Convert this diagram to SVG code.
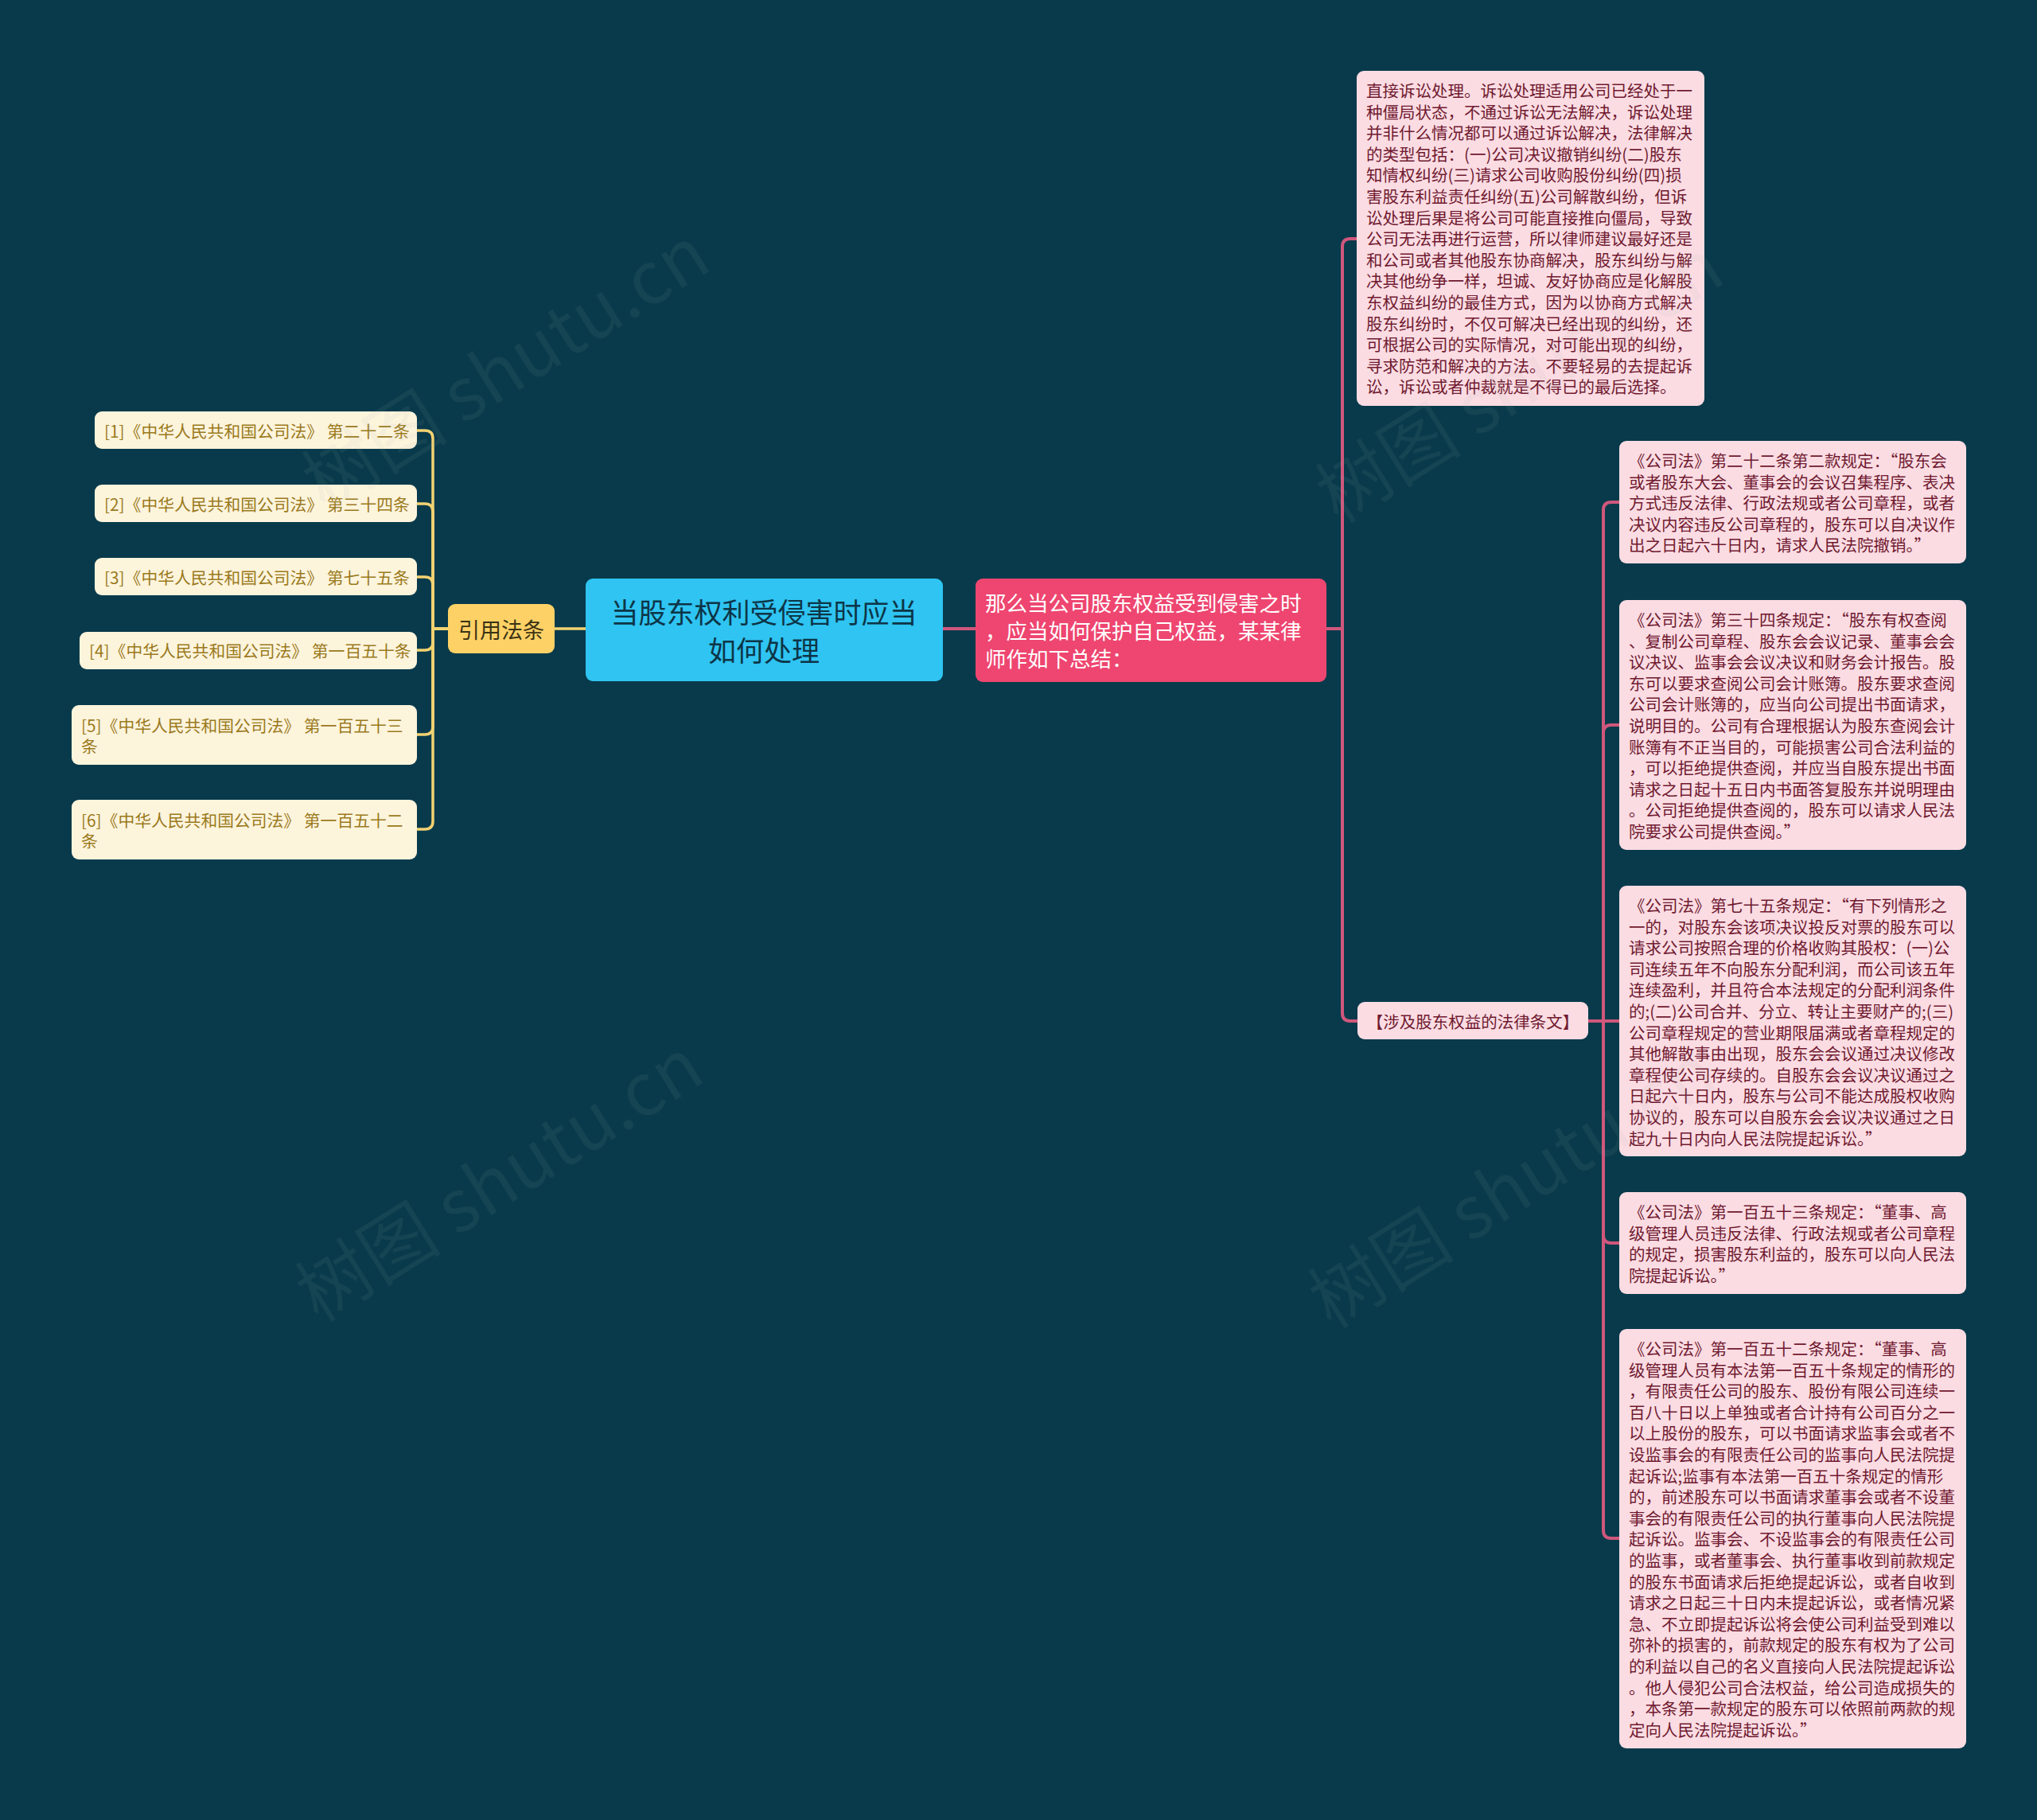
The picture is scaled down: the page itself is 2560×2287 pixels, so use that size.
<svg xmlns="http://www.w3.org/2000/svg" width="2560" height="2287" viewBox="0 0 2560 2287">
<style>
.cjk{font-family:"Noto Sans CJK SC","Noto Sans CJK TC",sans-serif;}
.ref rect{fill:#fdf4dc;}
.ref text{font-size:20.8px;fill:#9a7a1c;dominant-baseline:central;}
.law rect{fill:#fbdce3;}
.law text{font-size:20.5px;fill:#701a30;dominant-baseline:central;}
.cp{fill:none;stroke:#d0577c;stroke-width:4;}
.cy{fill:none;stroke:#f2d272;stroke-width:3.5;}
.wm{font-size:92px;fill:#a0a8ab;opacity:0.09;}
</style>
<rect x="0" y="0" width="2560" height="2287" fill="#083a4b"/>

<g id="connectors">
<path class="cy" d="M736 790 H697"/>
<path class="cy" d="M563 790 H544 V551 Q544 541 534 541 H524"/>
<path class="cy" d="M563 790 H544 V643 Q544 633 534 633 H524"/>
<path class="cy" d="M563 790 H544 V735 Q544 725 534 725 H524"/>
<path class="cy" d="M563 790 H544 V807 Q544 817 534 817 H524"/>
<path class="cy" d="M563 790 H544 V913 Q544 923 534 923 H524"/>
<path class="cy" d="M563 790 H544 V1032 Q544 1042 534 1042 H524"/>
<path class="cp" d="M1185 790 H1226"/>
<path class="cp" d="M1667 790 H1687 V310 Q1687 300 1697 300 H1705"/>
<path class="cp" d="M1667 790 H1687 V1273 Q1687 1283 1697 1283 H1706"/>
<path class="cp" d="M1996 1283 H2015 V641 Q2015 631 2025 631 H2035"/>
<path class="cp" d="M1996 1283 H2015 V921 Q2015 911 2025 911 H2035"/>
<path class="cp" d="M1996 1283 H2035"/>
<path class="cp" d="M1996 1283 H2015 V1552 Q2015 1562 2025 1562 H2035"/>
<path class="cp" d="M1996 1283 H2015 V1923 Q2015 1933 2025 1933 H2035"/>
</g>

<g id="root" class="cjk">
<rect x="736" y="727" width="449" height="129" rx="9" fill="#2fc4f2"/>
<text x="960" y="767" font-size="35" fill="#0d3547" text-anchor="middle" dominant-baseline="central">当股东权利受侵害时应当</text>
<text x="960" y="815" font-size="35" fill="#0d3547" text-anchor="middle" dominant-baseline="central">如何处理</text>
</g>

<g id="cite" class="cjk">
<rect x="563" y="759" width="134" height="62" rx="9" fill="#fed166"/>
<text x="630" y="790" font-size="27" fill="#3a3214" text-anchor="middle" dominant-baseline="central">引用法条</text>
</g>

<g id="ref1" class="ref cjk"><rect x="119" y="517" width="405" height="47" rx="9"/><text x="131" y="541">[1]《中华人民共和国公司法》 第二十二条</text></g>
<g id="ref2" class="ref cjk"><rect x="119" y="609" width="405" height="47" rx="9"/><text x="131" y="633">[2]《中华人民共和国公司法》 第三十四条</text></g>
<g id="ref3" class="ref cjk"><rect x="119" y="701" width="405" height="47" rx="9"/><text x="131" y="725">[3]《中华人民共和国公司法》 第七十五条</text></g>
<g id="ref4" class="ref cjk"><rect x="100" y="794" width="424" height="47" rx="9"/><text x="112" y="817">[4]《中华人民共和国公司法》 第一百五十条</text></g>
<g id="ref5" class="ref cjk"><rect x="90" y="886" width="434" height="75" rx="9"/><text x="102" y="911">[5]《中华人民共和国公司法》 第一百五十三<tspan x="102" dy="25.5">条</tspan></text></g>
<g id="ref6" class="ref cjk"><rect x="90" y="1005" width="434" height="75" rx="9"/><text x="102" y="1030">[6]《中华人民共和国公司法》 第一百五十二<tspan x="102" dy="25.5">条</tspan></text></g>

<g id="summary" class="cjk">
<rect x="1226" y="727" width="441" height="130" rx="9" fill="#ee4670"/>
<text x="1238" y="756" font-size="26.5" fill="#ffffff" dominant-baseline="central">那么当公司股东权益受到侵害之时<tspan x="1238" dy="35">，应当如何保护自己权益，某某律</tspan><tspan x="1238" dy="35">师作如下总结：</tspan></text>
</g>

<g id="advice" class="law cjk">
<rect x="1705" y="89" width="437" height="421" rx="9"/>
<text x="1717" y="113">直接诉讼处理。诉讼处理适用公司已经处于一<tspan x="1717" dy="26.6">种僵局状态，不通过诉讼无法解决，诉讼处理</tspan><tspan x="1717" dy="26.6">并非什么情况都可以通过诉讼解决，法律解决</tspan><tspan x="1717" dy="26.6">的类型包括：(一)公司决议撤销纠纷(二)股东</tspan><tspan x="1717" dy="26.6">知情权纠纷(三)请求公司收购股份纠纷(四)损</tspan><tspan x="1717" dy="26.6">害股东利益责任纠纷(五)公司解散纠纷，但诉</tspan><tspan x="1717" dy="26.6">讼处理后果是将公司可能直接推向僵局，导致</tspan><tspan x="1717" dy="26.6">公司无法再进行运营，所以律师建议最好还是</tspan><tspan x="1717" dy="26.6">和公司或者其他股东协商解决，股东纠纷与解</tspan><tspan x="1717" dy="26.6">决其他纷争一样，坦诚、友好协商应是化解股</tspan><tspan x="1717" dy="26.6">东权益纠纷的最佳方式，因为以协商方式解决</tspan><tspan x="1717" dy="26.6">股东纠纷时，不仅可解决已经出现的纠纷，还</tspan><tspan x="1717" dy="26.6">可根据公司的实际情况，对可能出现的纠纷，</tspan><tspan x="1717" dy="26.6">寻求防范和解决的方法。不要轻易的去提起诉</tspan><tspan x="1717" dy="26.6">讼，诉讼或者仲裁就是不得已的最后选择。</tspan></text>
</g>

<g id="laws" class="law cjk">
<rect x="1706" y="1259" width="290" height="47" rx="9"/>
<text x="1851" y="1283" text-anchor="middle">【涉及股东权益的法律条文】</text>
</g>

<g id="law22" class="law cjk">
<rect x="2035" y="554" width="436" height="154" rx="9"/>
<text x="2047" y="578">《公司法》第二十二条第二款规定：“股东会<tspan x="2047" dy="26.6">或者股东大会、董事会的会议召集程序、表决</tspan><tspan x="2047" dy="26.6">方式违反法律、行政法规或者公司章程，或者</tspan><tspan x="2047" dy="26.6">决议内容违反公司章程的，股东可以自决议作</tspan><tspan x="2047" dy="26.6">出之日起六十日内，请求人民法院撤销。”</tspan></text>
</g>

<g id="law34" class="law cjk">
<rect x="2035" y="754" width="436" height="314" rx="9"/>
<text x="2047" y="778">《公司法》第三十四条规定：“股东有权查阅<tspan x="2047" dy="26.6">、复制公司章程、股东会会议记录、董事会会</tspan><tspan x="2047" dy="26.6">议决议、监事会会议决议和财务会计报告。股</tspan><tspan x="2047" dy="26.6">东可以要求查阅公司会计账簿。股东要求查阅</tspan><tspan x="2047" dy="26.6">公司会计账簿的，应当向公司提出书面请求，</tspan><tspan x="2047" dy="26.6">说明目的。公司有合理根据认为股东查阅会计</tspan><tspan x="2047" dy="26.6">账簿有不正当目的，可能损害公司合法利益的</tspan><tspan x="2047" dy="26.6">，可以拒绝提供查阅，并应当自股东提出书面</tspan><tspan x="2047" dy="26.6">请求之日起十五日内书面答复股东并说明理由</tspan><tspan x="2047" dy="26.6">。公司拒绝提供查阅的，股东可以请求人民法</tspan><tspan x="2047" dy="26.6">院要求公司提供查阅。”</tspan></text>
</g>

<g id="law75" class="law cjk">
<rect x="2035" y="1113" width="436" height="340" rx="9"/>
<text x="2047" y="1137">《公司法》第七十五条规定：“有下列情形之<tspan x="2047" dy="26.6">一的，对股东会该项决议投反对票的股东可以</tspan><tspan x="2047" dy="26.6">请求公司按照合理的价格收购其股权：(一)公</tspan><tspan x="2047" dy="26.6">司连续五年不向股东分配利润，而公司该五年</tspan><tspan x="2047" dy="26.6">连续盈利，并且符合本法规定的分配利润条件</tspan><tspan x="2047" dy="26.6">的;(二)公司合并、分立、转让主要财产的;(三)</tspan><tspan x="2047" dy="26.6">公司章程规定的营业期限届满或者章程规定的</tspan><tspan x="2047" dy="26.6">其他解散事由出现，股东会会议通过决议修改</tspan><tspan x="2047" dy="26.6">章程使公司存续的。自股东会会议决议通过之</tspan><tspan x="2047" dy="26.6">日起六十日内，股东与公司不能达成股权收购</tspan><tspan x="2047" dy="26.6">协议的，股东可以自股东会会议决议通过之日</tspan><tspan x="2047" dy="26.6">起九十日内向人民法院提起诉讼。”</tspan></text>
</g>

<g id="law153" class="law cjk">
<rect x="2035" y="1498" width="436" height="128" rx="9"/>
<text x="2047" y="1522">《公司法》第一百五十三条规定：“董事、高<tspan x="2047" dy="26.6">级管理人员违反法律、行政法规或者公司章程</tspan><tspan x="2047" dy="26.6">的规定，损害股东利益的，股东可以向人民法</tspan><tspan x="2047" dy="26.6">院提起诉讼。”</tspan></text>
</g>

<g id="law152" class="law cjk">
<rect x="2035" y="1670" width="436" height="527" rx="9"/>
<text x="2047" y="1694">《公司法》第一百五十二条规定：“董事、高<tspan x="2047" dy="26.6">级管理人员有本法第一百五十条规定的情形的</tspan><tspan x="2047" dy="26.6">，有限责任公司的股东、股份有限公司连续一</tspan><tspan x="2047" dy="26.6">百八十日以上单独或者合计持有公司百分之一</tspan><tspan x="2047" dy="26.6">以上股份的股东，可以书面请求监事会或者不</tspan><tspan x="2047" dy="26.6">设监事会的有限责任公司的监事向人民法院提</tspan><tspan x="2047" dy="26.6">起诉讼;监事有本法第一百五十条规定的情形</tspan><tspan x="2047" dy="26.6">的，前述股东可以书面请求董事会或者不设董</tspan><tspan x="2047" dy="26.6">事会的有限责任公司的执行董事向人民法院提</tspan><tspan x="2047" dy="26.6">起诉讼。监事会、不设监事会的有限责任公司</tspan><tspan x="2047" dy="26.6">的监事，或者董事会、执行董事收到前款规定</tspan><tspan x="2047" dy="26.6">的股东书面请求后拒绝提起诉讼，或者自收到</tspan><tspan x="2047" dy="26.6">请求之日起三十日内未提起诉讼，或者情况紧</tspan><tspan x="2047" dy="26.6">急、不立即提起诉讼将会使公司利益受到难以</tspan><tspan x="2047" dy="26.6">弥补的损害的，前款规定的股东有权为了公司</tspan><tspan x="2047" dy="26.6">的利益以自己的名义直接向人民法院提起诉讼</tspan><tspan x="2047" dy="26.6">。他人侵犯公司合法权益，给公司造成损失的</tspan><tspan x="2047" dy="26.6">，本条第一款规定的股东可以依照前两款的规</tspan><tspan x="2047" dy="26.6">定向人民法院提起诉讼。”</tspan></text>
</g>

<g id="watermarks" class="cjk wm">
<text x="653" y="490" text-anchor="middle" transform="rotate(-32 653 490)">树图 shutu.cn</text>
<text x="645" y="1510" text-anchor="middle" transform="rotate(-32 645 1510)">树图 shutu.cn</text>
<text x="1927" y="506" text-anchor="middle" transform="rotate(-32 1927 506)">树图 shutu.cn</text>
<text x="1918" y="1518" text-anchor="middle" transform="rotate(-32 1918 1518)">树图 shutu.cn</text>
</g>
</svg>
